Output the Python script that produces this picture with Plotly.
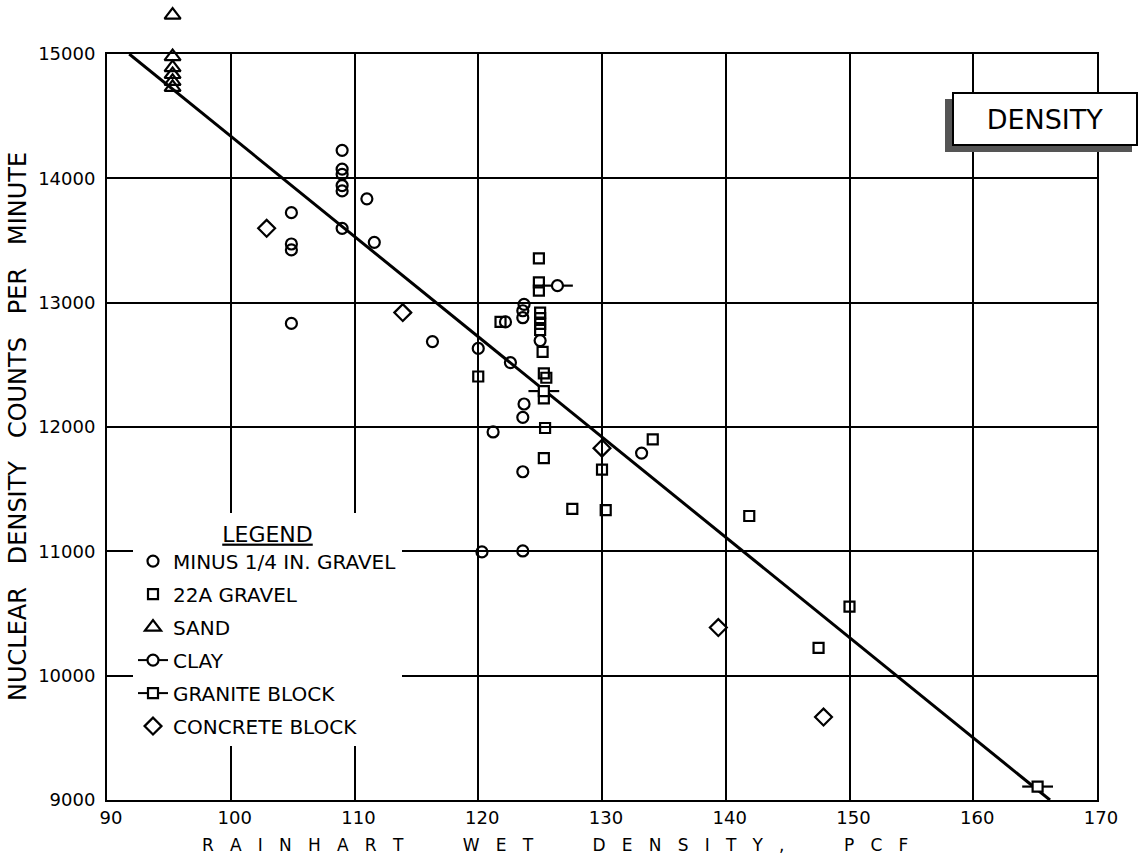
import plotly.graph_objects as go

# ---------------- data ----------------
minus_x = [109.0, 109.0, 109.0, 109.0, 109.0, 111.0, 104.9, 109.0, 104.9, 104.9, 111.6, 104.9,
           116.3, 120.0, 122.6, 123.7, 123.6, 123.6, 122.2, 125.0, 123.7, 123.6, 121.2, 123.6,
           133.2, 120.3, 123.6]
minus_y = [14225, 14074, 14032, 13942, 13899, 13835, 13724, 13598, 13472, 13424, 13485, 12833,
           12687, 12632, 12518, 12986, 12935, 12879, 12845, 12695, 12185, 12078, 11960, 11640,
           11790, 10995, 11003]

gravel22a_x = [124.9, 124.9, 124.9, 125.0, 125.0, 125.0, 125.0, 125.2, 121.8, 120.0, 125.3, 125.5,
               125.3, 125.4, 125.3, 130.0, 134.1, 127.6, 130.3, 141.9, 150.0, 147.5]
gravel22a_y = [13356, 13163, 13097, 12920, 12875, 12830, 12780, 12605, 12845, 12406, 12431, 12396,
               12230, 11992, 11749, 11657, 11900, 11342, 11331, 11284, 10556, 10223]

sand_x = [95.3, 95.3, 95.3, 95.3, 95.3, 95.3]
sand_y = [15313, 14979, 14891, 14835, 14780, 14732]

clay_x = [126.4]
clay_y = [13137]

granite_x = [125.3, 165.2]
granite_y = [12289, 9108]

concrete_x = [102.9, 113.9, 130.0, 139.4, 147.9]
concrete_y = [13598, 12920, 11830, 10387, 9667]

fit_x = [91.8, 166.2]
fit_y = [15000, 9000]

x_range = [90, 170]
y_range = [9000, 15000]
x_ticks = [90, 100, 110, 120, 130, 140, 150, 160, 170]
y_ticks = [9000, 10000, 11000, 12000, 13000, 14000, 15000]

series_names = ["MINUS 1/4 IN. GRAVEL", "22A GRAVEL", "SAND", "CLAY", "GRANITE BLOCK", "CONCRETE BLOCK"]

# ---------------- layout constants ----------------
W, H = 1143, 861
ML, MR, MT, MB = 107, 46, 5, 61
PW, PH = W - ML - MR, H - MT - MB          # full plotting region (paper)
PLOT_TOP_PX = 54                            # top of the gridded frame
FRAME_H = H - MB - PLOT_TOP_PX
FONT = "DejaVu Sans"


def px_x(px):
    return (px - ML) / PW


def px_y(py):
    return (H - MB - py) / PH


def gapped(v):
    out = []
    for a in v:
        out += [a, None]
    return out


# extended range for the overlay axis that lets the highest sand reading sit above the frame
y2_top = y_range[0] + (y_range[1] - y_range[0]) * PH / FRAME_H

fig = go.Figure()

# regression line
fig.add_trace(go.Scatter(x=fit_x, y=fit_y, mode="lines", line=dict(color="black", width=3),
                         showlegend=False, hoverinfo="skip"))

mk = dict(color="black", width=2.2)
fig.add_trace(go.Scatter(x=minus_x, y=minus_y, mode="markers", name=series_names[0], legendgroup="a",
                         marker=dict(symbol="circle-open", size=11, color="black", line=mk)))
fig.add_trace(go.Scatter(x=gravel22a_x, y=gravel22a_y, mode="markers", name=series_names[1], legendgroup="b",
                         marker=dict(symbol="square-open", size=10, color="black", line=mk)))
fig.add_trace(go.Scatter(x=sand_x, y=sand_y, mode="markers", name=series_names[2], legendgroup="c",
                         xaxis="x2", yaxis="y2", cliponaxis=False,
                         marker=dict(symbol="triangle-up-open", size=14, color="black", line=mk)))
# clay: circle with a dash through it
fig.add_trace(go.Scatter(x=clay_x, y=clay_y, mode="markers", showlegend=False, hoverinfo="skip",
                         marker=dict(symbol="line-ew-open", size=22, color="black", line=mk)))
fig.add_trace(go.Scatter(x=gapped(clay_x), y=gapped(clay_y), mode="lines+markers", name=series_names[3],
                         legendgroup="d", connectgaps=False, line=dict(color="black", width=2),
                         marker=dict(symbol="circle", size=11, color="white", line=mk)))
# granite: square with a dash through it
fig.add_trace(go.Scatter(x=granite_x, y=granite_y, mode="markers", showlegend=False, hoverinfo="skip",
                         marker=dict(symbol="line-ew-open", size=22, color="black", line=mk)))
fig.add_trace(go.Scatter(x=gapped(granite_x), y=gapped(granite_y), mode="lines+markers", name=series_names[4],
                         legendgroup="e", connectgaps=False, line=dict(color="black", width=2),
                         marker=dict(symbol="square", size=10, color="white", line=mk)))
fig.add_trace(go.Scatter(x=concrete_x, y=concrete_y, mode="markers", name=series_names[5], legendgroup="f",
                         marker=dict(symbol="diamond-open", size=13, color="black", line=mk)))

axis_common = dict(showgrid=True, gridcolor="black", gridwidth=2, showline=True, linecolor="black",
                   linewidth=2, mirror=True, zeroline=False, ticks="", automargin=False,
                   tickfont=dict(family=FONT, size=18, color="black"))

fig.update_layout(
    width=W, height=H,
    margin=dict(l=ML, r=MR, t=MT, b=MB, pad=0, autoexpand=False),
    paper_bgcolor="white", plot_bgcolor="rgba(0,0,0,0)",
    font=dict(family=FONT, color="black"),
    xaxis=dict(range=x_range, tickvals=x_ticks, ticktext=[str(t) for t in x_ticks],
               ticklabelshift=4, anchor="y", **axis_common),
    yaxis=dict(range=y_range, tickvals=y_ticks, ticktext=[str(t) for t in y_ticks],
               domain=[0, FRAME_H / PH], ticklabelstandoff=6, anchor="x", **axis_common),
    xaxis2=dict(range=x_range, overlaying="x", anchor="y2", visible=False, automargin=False),
    yaxis2=dict(range=[y_range[0], y2_top], domain=[0, 1], anchor="x2", visible=False, automargin=False),
    legend=dict(x=px_x(133), y=px_y(513), xanchor="left", yanchor="top",
                bgcolor="white", borderwidth=0, tracegroupgap=4,
                font=dict(family=FONT, size=20, color="black"),
                title=dict(text="<u>LEGEND</u>", side="top center",
                           font=dict(family=FONT, size=22, color="black"))),
    showlegend=True,
)

# axis titles
xtitle = ("\u00a0" * 11).join(("\u00a0" * 3).join(list(w)) for w in ["RAINHART", "WET", "DENSITY,", "PCF"])
fig.add_annotation(text=xtitle, xref="paper", yref="paper", x=px_x(555), y=px_y(845),
                   xanchor="center", yanchor="middle", showarrow=False,
                   font=dict(family=FONT, size=17, color="black"))
ytitle = ("\u00a0" * 3).join(["NUCLEAR", "DENSITY", "COUNTS", "PER", "MINUTE"])
fig.add_annotation(text=ytitle, xref="paper", yref="paper", x=px_x(18), y=px_y(427),
                   xanchor="center", yanchor="middle", showarrow=False, textangle=-90,
                   font=dict(family=FONT, size=24, color="black"))

# DENSITY label box with shadow
fig.add_shape(type="rect", xref="paper", yref="paper",
              x0=px_x(945), x1=px_x(1132), y0=px_y(152), y1=px_y(99),
              fillcolor="#555555", line=dict(width=0), layer="above")
fig.add_annotation(text="DENSITY", xref="paper", yref="paper",
                   x=px_x(1045), y=px_y(119), xanchor="center", yanchor="middle",
                   showarrow=False, width=178, height=46, bgcolor="white",
                   bordercolor="black", borderwidth=2, borderpad=2,
                   font=dict(family=FONT, size=27, color="black"))

fig.write_html("out.html")
